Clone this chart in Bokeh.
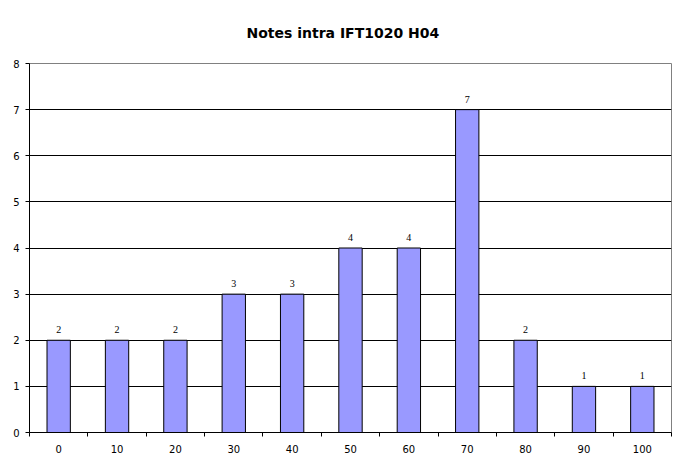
from bokeh.plotting import figure
from bokeh.models import ColumnDataSource, FixedTicker, LabelSet, Range1d, Title
from bokeh.embed import file_html
from bokeh.resources import INLINE

title_text = "Notes intra IFT1020 H04"
categories = ["0", "10", "20", "30", "40", "50", "60", "70", "80", "90", "100"]
counts = [2, 2, 2, 3, 3, 4, 4, 7, 2, 1, 1]
y_ticks = [0, 1, 2, 3, 4, 5, 6, 7, 8]

xs = [i + 0.5 for i in range(len(categories))]
src = ColumnDataSource(dict(x=xs, top=counts, lab=[str(c) for c in counts]))

p = figure(width=675, height=459, output_backend="svg", toolbar_location=None,
           x_range=Range1d(0, len(categories)), y_range=Range1d(0, 8),
           min_border_left=29, min_border_right=4, min_border_top=63, min_border_bottom=27)

p.title = Title(text=title_text, align="left", offset=217, standoff=45,
                text_font="DejaVu Sans", text_font_style="bold",
                text_font_size="14px", text_color="black")

p.outline_line_color = "#808080"
p.outline_line_width = 1
p.background_fill_color = "white"
p.border_fill_color = "white"

p.vbar(x="x", top="top", width=0.4, bottom=0, source=src,
       fill_color="#9999FF", line_color="black", line_width=1)

labels = LabelSet(x="x", y="top", text="lab", source=src, text_align="center",
                  text_baseline="bottom", y_offset=7, text_font_size="10px",
                  text_font="DejaVu Sans", text_color="black")
p.add_layout(labels)

xt = FixedTicker(ticks=xs, minor_ticks=list(range(len(categories) + 1)))
p.xaxis.ticker = xt
p.xaxis.major_label_overrides = {x: c for x, c in zip(xs, categories)}
p.xaxis.major_tick_out = 0
p.xaxis.major_tick_in = 0
p.xaxis.minor_tick_out = 4
p.xaxis.minor_tick_in = 0
p.xaxis.minor_tick_line_color = "black"
p.xaxis.axis_line_color = "black"
p.xaxis.major_label_text_font = "DejaVu Sans"
p.xaxis.major_label_text_font_size = "10px"
p.xaxis.major_label_text_color = "black"
p.xaxis.major_label_standoff = 8

p.yaxis.ticker = FixedTicker(ticks=y_ticks)
p.yaxis.major_tick_out = 4
p.yaxis.major_tick_in = 0
p.yaxis.minor_tick_line_color = None
p.yaxis.axis_line_color = "black"
p.yaxis.major_label_text_font = "DejaVu Sans"
p.yaxis.major_label_text_font_size = "10px"
p.yaxis.major_label_text_color = "black"
p.yaxis.major_label_standoff = 6

p.xgrid.visible = False
p.ygrid.ticker = FixedTicker(ticks=y_ticks[1:-1])
p.ygrid.grid_line_color = "black"
p.ygrid.grid_line_width = 1

open("out.html", "w").write(file_html(p, INLINE))
